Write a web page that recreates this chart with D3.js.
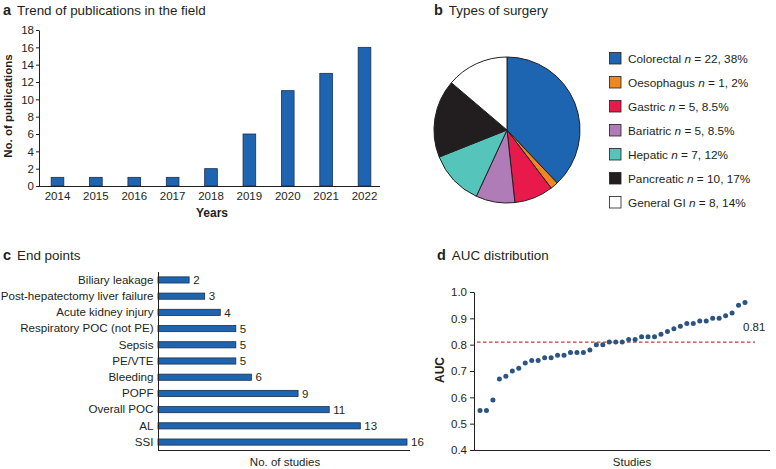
<!DOCTYPE html>
<html><head><meta charset="utf-8">
<script src="https://cdn.jsdelivr.net/npm/d3@7"></script>
<style>
body{margin:0;background:#fff;}
svg{display:block;font-family:"Liberation Sans",Arial,sans-serif;}
</style></head>
<body><svg id="c" width="776" height="469"></svg>
<script>
// ---- data ----
const years = ["2014","2015","2016","2017","2018","2019","2020","2021","2022"];
const publications = [1,1,1,1,2,6,11,13,16];
const pubTicks = [0,2,4,6,8,10,12,14,16,18];

const surgeryTypes = ["Colorectal","Oesophagus","Gastric","Bariatric","Hepatic","Pancreatic","General GI"];
const surgeryCounts = [22,1,5,5,7,10,8];
const surgeryPct = ["38%","2%","8.5%","8.5%","12%","17%","14%"];
const surgeryColors = ["#1d65b1","#f0861f","#e81a4c","#b07cb8","#55c4ba","#221e1f","#ffffff"];

const endpoints = ["Biliary leakage","Post-hepatectomy liver failure","Acute kidney injury","Respiratory POC (not PE)","Sepsis","PE/VTE","Bleeding","POPF","Overall POC","AL","SSI"];
const endpointStudies = [2,3,4,5,5,5,6,9,11,13,16];

const aucValues = [0.55,0.55,0.59,0.67,0.68,0.70,0.71,0.73,0.74,0.74,0.75,0.75,0.76,0.76,0.77,0.77,0.77,0.78,0.80,0.80,0.81,0.81,0.81,0.82,0.82,0.83,0.83,0.83,0.84,0.85,0.86,0.87,0.88,0.88,0.89,0.89,0.90,0.90,0.91,0.92,0.95,0.96];
const aucMedian = 0.81;
const aucTicks = [0.4,0.5,0.6,0.7,0.8,0.9,1.0];

const svg = d3.select("#c");
const ink = "#231f20";
const barFill = "#1d65b1", barStroke = "#1b2f4d";
const fs = 11.5;

function title(x, y, letter, text){
  const t = svg.append("text").attr("x",x).attr("y",y).attr("font-size",13.4).attr("fill",ink);
  t.append("tspan").attr("font-weight","bold").attr("font-size",14.5).text(letter);
  t.append("tspan").attr("dx",6).text(text);
}
function styleAxis(g, size){
  g.selectAll("path").attr("stroke",ink);
  g.selectAll("line").attr("stroke",ink);
  g.selectAll("text").attr("fill",ink).attr("font-size",size||fs).attr("font-family","Liberation Sans, Arial, sans-serif");
}

// ---- panel a ----
title(3,15,"a","Trend of publications in the field");
const ax = d3.scaleBand().domain(years).range([39,383]).paddingInner(0.67).paddingOuter(0.317);
const ay = d3.scaleLinear().domain([0,18]).range([186,30]);
svg.append("g").selectAll("rect").data(publications).join("rect")
  .attr("x",(d,i)=>ax(years[i])).attr("width",ax.bandwidth())
  .attr("y",d=>ay(d)).attr("height",d=>ay(0)-ay(d))
  .attr("fill",barFill).attr("stroke",barStroke).attr("stroke-width",0.8);
const gay = svg.append("g").attr("transform","translate(39,0)")
  .call(d3.axisLeft(ay).tickValues(pubTicks).tickSize(3).tickSizeOuter(0).tickPadding(2));
styleAxis(gay);
const gax = svg.append("g").attr("transform","translate(0,186)")
  .call(d3.axisBottom(ax).tickSize(0).tickPadding(6));
gax.select("path").attr("d","M39,0.5H380");
styleAxis(gax);
svg.append("text").attr("transform","translate(12,106) rotate(-90)").attr("text-anchor","middle")
  .attr("font-weight","bold").attr("font-size",11.5).attr("fill",ink).text("No. of publications");
svg.append("text").attr("x",212).attr("y",217).attr("text-anchor","middle")
  .attr("font-weight","bold").attr("font-size",12).attr("fill",ink).text("Years");

// ---- panel b ----
title(434,15,"b","Types of surgery");
const pie = d3.pie().sort(null).value(d=>d)(surgeryCounts);
const arc = d3.arc().innerRadius(0).outerRadius(73);
svg.append("g").attr("transform","translate(507,130)")
  .selectAll("path").data(pie).join("path")
  .attr("d",arc).attr("fill",(d,i)=>surgeryColors[i])
  .attr("stroke",ink).attr("stroke-width",1).attr("stroke-linejoin","round");
const leg = svg.append("g");
surgeryTypes.forEach((s,i)=>{
  const cy = 58 + i*24;
  leg.append("rect").attr("x",609.5).attr("y",cy-5.5).attr("width",11.5).attr("height",11.5)
    .attr("fill",surgeryColors[i]).attr("stroke",ink).attr("stroke-width",0.8);
  const t = leg.append("text").attr("x",628).attr("y",cy+4.5).attr("font-size",11.8).attr("fill",ink);
  t.append("tspan").text(s+" ");
  t.append("tspan").attr("font-style","italic").text("n");
  t.append("tspan").text(" = "+surgeryCounts[i]+", "+surgeryPct[i]);
});

// ---- panel c ----
title(3,260,"c","End points");
const cy = d3.scaleBand().domain(endpoints).range([272,450]).paddingInner(0.62).paddingOuter(0.3);
const cx = d3.scaleLinear().domain([0,16]).range([158,407]);
svg.append("g").selectAll("rect").data(endpointStudies).join("rect")
  .attr("x",cx(0)).attr("y",(d,i)=>cy(endpoints[i])).attr("height",cy.bandwidth())
  .attr("width",d=>cx(d)-cx(0))
  .attr("fill",barFill).attr("stroke",barStroke).attr("stroke-width",0.8);
svg.append("g").selectAll("text").data(endpointStudies).join("text")
  .attr("x",d=>cx(d)+4).attr("y",(d,i)=>cy(endpoints[i])+cy.bandwidth()/2+4.2)
  .attr("font-size",fs).attr("fill",ink).text(d=>d);
const gcy = svg.append("g").attr("transform","translate(158,0)")
  .call(d3.axisLeft(cy).tickSize(0).tickPadding(4.5));
gcy.select("path").attr("d","M0.5,272V450");
styleAxis(gcy, 11.6);
svg.append("line").attr("x1",158).attr("x2",410).attr("y1",450.5).attr("y2",450.5).attr("stroke",ink);
svg.append("text").attr("x",285).attr("y",466).attr("text-anchor","middle").attr("font-size",fs).attr("fill",ink).text("No. of studies");

// ---- panel d ----
title(437,260,"d","AUC distribution");
const dy = d3.scaleLinear().domain([0.4,1.0]).range([450,292]);
const dx = d3.scaleLinear().domain([0,aucValues.length-1]).range([480,745]);
const gdy = svg.append("g").attr("transform","translate(474,0)")
  .call(d3.axisLeft(dy).tickValues(aucTicks).tickFormat(d3.format(".1f")).tickSize(4).tickSizeOuter(0).tickPadding(3));
styleAxis(gdy);
svg.append("line").attr("x1",474).attr("x2",770).attr("y1",450.5).attr("y2",450.5).attr("stroke",ink);
svg.append("line").attr("x1",477).attr("x2",755).attr("y1",dy(aucMedian)).attr("y2",dy(aucMedian))
  .attr("stroke","#c83a3c").attr("stroke-width",1.2).attr("stroke-dasharray","3.5,2.5");
svg.append("text").attr("x",743).attr("y",dy(aucMedian)-11).attr("font-size",fs).attr("fill",ink).text(aucMedian.toFixed(2));
svg.append("g").selectAll("circle").data(aucValues).join("circle")
  .attr("cx",(d,i)=>dx(i)).attr("cy",d=>dy(d)).attr("r",2.5).attr("fill","#2b5580");
svg.append("text").attr("transform","translate(444,370) rotate(-90)").attr("text-anchor","middle")
  .attr("font-weight","bold").attr("font-size",12).attr("fill",ink).text("AUC");
svg.append("text").attr("x",632).attr("y",466).attr("text-anchor","middle").attr("font-size",fs).attr("fill",ink).text("Studies");
</script></body></html>
